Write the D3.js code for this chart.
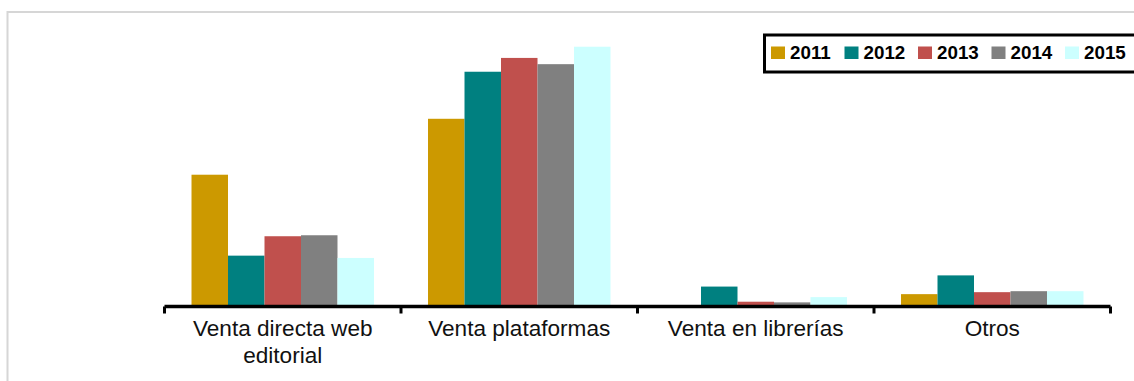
<!DOCTYPE html>
<html>
<head>
<meta charset="utf-8">
<script src="https://cdn.jsdelivr.net/npm/d3@7/dist/d3.min.js"></script>
<style>
  html, body { margin: 0; padding: 0; background: #fff; }
  svg { display: block; font-family: "Liberation Sans", Arial, sans-serif; }
</style>
</head>
<body>
<svg id="chart" width="1134" height="381"></svg>
<script>
// Sales channel share (%) per year
const categories = ["Venta directa web editorial", "Venta plataformas", "Venta en librerías", "Otros"];
const years = ["2011", "2012", "2013", "2014", "2015"];
const values2011 = [39.6, 56.6, 0.0, 3.3];
const values2012 = [15.0, 70.9, 5.6, 9.0];
const values2013 = [20.9, 75.1, 1.0, 3.9];
const values2014 = [21.2, 73.2, 0.8, 4.2];
const values2015 = [14.3, 78.5, 2.4, 4.2];
const colors = ["#CC9900", "#008080", "#C0504D", "#808080", "#CCFFFF"];

const seriesValues = [values2011, values2012, values2013, values2014, values2015];
const rows = categories.map((c, i) => ({
  category: c,
  values: years.map((y, j) => ({ year: y, value: seriesValues[j][i] }))
}));

const svg = d3.select("#chart");

// outer frame
svg.append("path")
  .attr("d", "M7.5,381 L7.5,12 L1134,12")
  .attr("fill", "none")
  .attr("stroke", "#d6d6d6")
  .attr("stroke-width", 2);

const baseline = 305;
const x0 = d3.scaleBand().domain(categories).range([164.5, 1110.5]).padding(0);
const x1 = d3.scaleBand().domain(years).range([0, x0.bandwidth()]).paddingInner(0).paddingOuter(0.74);
const y = d3.scaleLinear().domain([0, 100]).range([baseline, baseline - 329]);
const color = d3.scaleOrdinal().domain(years).range(colors);

// bars
const groups = svg.append("g").selectAll("g")
  .data(rows).join("g")
  .attr("transform", d => `translate(${x0(d.category)},0)`);

groups.selectAll("rect")
  .data(d => d.values.filter(v => v.value > 0))
  .join("rect")
  .attr("x", d => x1(d.year))
  .attr("y", d => y(d.value))
  .attr("width", x1.bandwidth())
  .attr("height", d => y(0) - y(d.value))
  .attr("fill", d => color(d.year));

// category axis
const axis = svg.append("g")
  .attr("transform", `translate(0,${baseline + 1.5})`)
  .call(d3.axisBottom(x0).tickSize(0).tickPadding(0));
axis.select(".domain").remove();
axis.selectAll(".tick text").remove();

axis.append("line")
  .attr("x1", x0.range()[0]).attr("x2", x0.range()[1])
  .attr("y1", 0).attr("y2", 0)
  .attr("stroke", "#000").attr("stroke-width", 3.5);

// boundary ticks between categories
const bounds = categories.map(c => x0(c)).concat([x0.range()[1]]);
axis.selectAll("line.bound")
  .data(bounds).join("line")
  .attr("class", "bound")
  .attr("x1", d => d).attr("x2", d => d)
  .attr("y1", 0).attr("y2", 7)
  .attr("stroke", "#000").attr("stroke-width", 3);

// category labels, wrapped to the band width
const maxW = 225;
axis.selectAll(".tick").each(function(cat) {
  const g = d3.select(this);
  const t = g.append("text")
    .attr("fill", "#111")
    .attr("text-anchor", "middle")
    .attr("font-size", "22.6px");
  const words = cat.split(" ");
  let line = [];
  let lineNo = 0;
  let tspan = t.append("tspan").attr("x", 0).attr("y", 29.5);
  words.forEach(w => {
    line.push(w);
    tspan.text(line.join(" "));
    if (tspan.node().getComputedTextLength() > maxW && line.length > 1) {
      line.pop();
      tspan.text(line.join(" "));
      line = [w];
      lineNo++;
      tspan = t.append("tspan").attr("x", 0).attr("y", 29.5 + lineNo * 27.2).text(w);
    }
  });
});

// legend
const legend = svg.append("g");
legend.append("rect")
  .attr("x", 764.5).attr("y", 35)
  .attr("width", 420).attr("height", 37)
  .attr("fill", "#fff")
  .attr("stroke", "#000").attr("stroke-width", 3);

const item = legend.selectAll("g.item")
  .data(years).join("g")
  .attr("class", "item")
  .attr("transform", (d, i) => `translate(${771 + i * 73.5},0)`);

item.append("rect")
  .attr("x", 0).attr("y", 46.5)
  .attr("width", 14).attr("height", 12.5)
  .attr("fill", d => color(d));

item.append("text")
  .attr("x", 19).attr("y", 59.2)
  .attr("font-size", "18.8px")
  .attr("font-weight", "bold")
  .attr("fill", "#000")
  .text(d => d);
</script>
</body>
</html>
